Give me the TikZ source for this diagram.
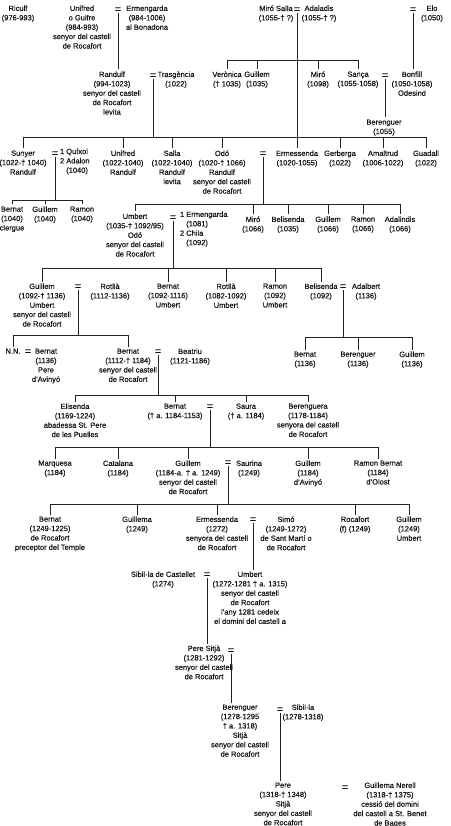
\documentclass[tikz,border=0pt]{standalone}
\usepackage{fontspec}
\setmainfont{Liberation Sans}[FakeBold=0.3]
\definecolor{treeInk}{RGB}{20,20,20}
\definecolor{treeLine}{RGB}{35,35,35}

\begin{document}
\begin{tikzpicture}[x=1pt,y=-1pt,inner sep=0pt,outer sep=0pt,
  person/.style={anchor=north,align=center,outer sep=2pt,text=treeInk,font=\fontsize{7.5}{9.4}\selectfont},
  wives/.style={anchor=north west,align=left,text=treeInk,font=\fontsize{7.5}{9.4}\selectfont},
  wed/.style={text=treeInk,font=\fontsize{11}{11}\selectfont},
  link/.style={draw=treeLine,line width=0.7pt}]
\useasboundingbox (0,0) rectangle (450,826);
\fill[white] (0,0) rectangle (450,826);

% first generation
\node[person] (riculf) at (18,3.5) {Riculf\\(976-993)};
\node[person] (unifred) at (82,3.5) {Unifred\\o Guifre\\(984-993)\\senyor del castell\\de Rocafort};
\node[wed] (eqUni) at (118,10) {=};
\node[person] (ermengarda) at (147,3.5) {Ermengarda\\(984-1006)\\al Bonadona};
\node[person] (miroSalla) at (276,3.5) {Miró Salla\\(1055-† ?)};
\node[wed] (eqMiro) at (297,10) {=};
\node[person] (adaladis) at (319,3.5) {Adaladis\\(1055-† ?)};
\node[wed] (eqElo) at (413,10) {=};
\node[person] (elo) at (432,3.5) {Elo\\(1050)};

% second generation
\node[person] (randulf) at (112,69.5) {Randulf\\(994-1023)\\senyor del castell\\de Rocafort\\levita};
\node[wed] (eqRan) at (153,76) {=};
\node[person] (trasgencia) at (176,69.5) {Trasgència\\(1022)};
\node[person] (veronica) at (227,69.5) {Verònica\\(† 1035)};
\node[person] (guillemA) at (257,69.5) {Guillem\\(1035)};
\node[person] (miroB) at (318,69.5) {Miró\\(1098)};
\node[person] (sanca) at (358,69.5) {Sança\\(1055-1058)};
\node[wed] (eqSan) at (385,76) {=};
\node[person] (bonfill) at (412,69.5) {Bonfill\\(1050-1058)\\Odesind};
\node[person] (berenguerA) at (384,117.5) {Berenguer\\(1055)};

% children of Randulf
\node[person] (sunyer) at (23,148.5) {Sunyer\\(1022-† 1040)\\Randulf};
\node[wed] (eqSuny) at (55,154) {=};
\node[wives] (wivesSuny) at (60,148.5) {1 Quíxol\\2 Adalon\\\hphantom{2 }(1040)};
\node[person] (unifredB) at (123,148.5) {Unifred\\(1022-1040)\\Randulf};
\node[person] (salla) at (172,148.5) {Salla\\(1022-1040)\\Randulf\\levita};
\node[person] (odo) at (222,148.5) {Odó\\(1020-† 1066)\\Randulf\\senyor del castell\\de Rocafort};
\node[wed] (eqOdo) at (263,154) {=};
\node[person] (ermessenda) at (297,148.5) {Ermessenda\\(1020-1055)};
\node[person] (gerberga) at (340,148.5) {Gerberga\\(1022)};
\node[person] (amaltrud) at (383,148.5) {Amaltrud\\(1006-1022)};
\node[person] (guadall) at (426,148.5) {Guadall\\(1022)};

% children of Sunyer and Odó
\node[person] (bernatA) at (12,204.5) {Bernat\\(1040)\\clergue};
\node[person] (guillemB) at (45,204.5) {Guillem\\(1040)};
\node[person] (ramonA) at (82,204.5) {Ramon\\(1040)};
\node[person] (umbert) at (135,211.5) {Umbert\\(1035-† 1092/95)\\Odó\\senyor del castell\\de Rocafort};
\node[wed] (eqUmb) at (173,218) {=};
\node[wives] (wivesUmb) at (180,211.5) {1 Ermengarda\\\hphantom{1 }(1081)\\2 Chila\\\hphantom{2 }(1092)};
\node[person] (miroC) at (253,214.5) {Miró\\(1066)};
\node[person] (belisendaA) at (288,214.5) {Belisenda\\(1035)};
\node[person] (guillemC) at (328,214.5) {Guillem\\(1066)};
\node[person] (ramonB) at (363,214.5) {Ramon\\(1066)};
\node[person] (adalindis) at (400,214.5) {Adalindis\\(1066)};

% children of Umbert
\node[person] (guillemD) at (42,281.5) {Guillem\\(1092-† 1136)\\Umbert\\senyor del castell\\de Rocafort};
\node[wed] (eqGui) at (78,287) {=};
\node[person] (rotllaA) at (110,281.5) {Rotllà\\(1112-1136)};
\node[person] (bernatB) at (168,281.5) {Bernat\\(1092-1116)\\Umbert};
\node[person] (rotllaB) at (226,281.5) {Rotllà\\(1082-1092)\\Umbert};
\node[person] (ramonC) at (275,281.5) {Ramon\\(1092)\\Umbert};
\node[person] (belisendaB) at (321,281.5) {Belisenda\\(1092)};
\node[wed] (eqBel) at (343,287) {=};
\node[person] (adalbert) at (366,281.5) {Adalbert\\(1136)};

% children of Guillem and Belisenda
\node[person] (nn) at (13,346.5) {N.N.};
\node[wed] (eqNn) at (28,352) {=};
\node[person] (bernatD) at (46,346.5) {Bernat\\(1136)\\Pere\\d'Avinyó};
\node[person] (bernatE) at (128,346.5) {Bernat\\(1112-† 1184)\\senyor del castell\\de Rocafort};
\node[wed] (eqBer) at (158,352) {=};
\node[person] (beatriu) at (190,346.5) {Beatriu\\(1121-1186)};
\node[person] (bernatC) at (305,349.5) {Bernat\\(1136)};
\node[person] (berenguerB) at (358,349.5) {Berenguer\\(1136)};
\node[person] (guillemE) at (412,349.5) {Guillem\\(1136)};

% children of Bernat and Beatriu
\node[person] (elisenda) at (75,401.5) {Elisenda\\(1169-1224)\\abadessa St. Pere\\de les Puelles};
\node[person] (bernatF) at (175,401.5) {Bernat\\(† a. 1184-1153)};
\node[wed] (eqBf) at (210,407) {=};
\node[person] (saura) at (246,401.5) {Saura\\(† a. 1184)};
\node[person] (berenguera) at (308,401.5) {Berenguera\\(1178-1184)\\senyora del castell\\de Rocafort};

% children of Bernat
\node[person] (marquesa) at (55,458.5) {Marquesa\\(1184)};
\node[person] (catalana) at (118,458.5) {Catalana\\(1184)};
\node[person] (guillemF) at (188,458.5) {Guillem\\(1184-a. † a. 1249)\\senyor del castell\\de Rocafort};
\node[wed] (eqGf) at (228,463) {=};
\node[person] (saurina) at (249,458.5) {Saurina\\(1249)};
\node[person] (guillemG) at (308,458.5) {Guillem\\(1184)\\d'Avinyó};
\node[person] (ramonD) at (378,458.5) {Ramon Bernat\\(1184)\\d'Olost};

% children of Guillem and Saurina
\node[person] (bernatG) at (50,514.5) {Bernat\\(1249-1225)\\de Rocafort\\preceptor del Temple};
\node[person] (guillema) at (137,514.5) {Guillema\\(1249)};
\node[person] (ermessendaB) at (217,514.5) {Ermessenda\\(1272)\\senyora del castell\\de Rocafort};
\node[wed] (eqErm) at (253,520) {=};
\node[person] (simo) at (286,514.5) {Simó\\(1249-1272)\\de Sant Martí o\\de Rocafort};
\node[person] (rocafort) at (355,514.5) {Rocafort\\(f) (1249)};
\node[person] (guillemH) at (409,514.5) {Guillem\\(1249)\\Umbert};

% last line of lords
\node[person] (sibilla) at (163,569.5) {Sibil·la de Castellet\\(1274)};
\node[wed] (eqSib) at (207,575) {=};
\node[person] (umbertB) at (250,569.5) {Umbert\\(1272-1281 † a. 1315)\\senyor del castell\\de Rocafort\\l'any 1281 cedeix\\el domini del castell a};
\node[person] (pereSitja) at (204,643.5) {Pere Sitjà\\(1281-1292)\\senyor del castell\\de Rocafort};
\node[wed] (eqPs) at (231,651) {=};
\node[person] (berenguerC) at (240,702.5) {Berenguer\\(1278-1295\\† a. 1318)\\Sitjà\\senyor del castell\\de Rocafort};
\node[wed] (eqBc) at (280,710) {=};
\node[person] (sibillaB) at (303,702.5) {Sibil·la\\(1278-1318)};
\node[person] (pere) at (283,780.5) {Pere\\(1318-† 1348)\\Sitjà\\senyor del castell\\de Rocafort};
\node[wed] (eqPere) at (345,788) {=};
\node[person] (guillemaN) at (390,780.5) {Guillema Nerell\\(1318-† 1375)\\cessió del domini\\del castell a St. Benet\\de Bages};

% sibling bars
\coordinate (barMiro) at (0,60);
\coordinate (barRan) at (0,137);
\coordinate (barSuny) at (0,200);
\coordinate (barOdo) at (0,204);
\coordinate (barUmb) at (0,268);
\coordinate (barGui) at (0,335);
\coordinate (barBel) at (0,337);
\coordinate (barBer) at (0,395);
\coordinate (barBf) at (0,447);
\coordinate (barGf) at (0,504);

% descent lines
\draw[link] (eqUni.south) -- (eqUni.south |- randulf.north);
\draw[link] (eqElo.south) -- (eqElo.south |- bonfill.north);
\draw[link] (eqSan.south) -- (eqSan.south |- berenguerA.north);
\draw[link] (eqMiro.south) -- (eqMiro.south |- barMiro);
\draw[link] (veronica.north) -- (veronica.north |- barMiro) -| (sanca.north);
\foreach \k in {guillemA,miroB,ermessenda}
  \draw[link] (\k.north) -- (\k.north |- barMiro);
\draw[link] (eqRan.south) -- (eqRan.south |- barRan);
\draw[link] (sunyer.north) -- (sunyer.north |- barRan) -| (guadall.north);
\foreach \k in {unifredB,salla,odo,gerberga,amaltrud}
  \draw[link] (\k.north) -- (\k.north |- barRan);
\draw[link] (eqSuny.south) -- (eqSuny.south |- barSuny);
\draw[link] (bernatA.north) -- (bernatA.north |- barSuny) -| (ramonA.north);
\draw[link] (guillemB.north) -- (guillemB.north |- barSuny);
\draw[link] (eqOdo.south) -- (eqOdo.south |- barOdo);
\draw[link] (umbert.north) -- (umbert.north |- barOdo) -| (adalindis.north);
\foreach \k in {miroC,belisendaA,guillemC,ramonB}
  \draw[link] (\k.north) -- (\k.north |- barOdo);
\draw[link] (eqUmb.south) -- (eqUmb.south |- barUmb);
\draw[link] (guillemD.north) -- (guillemD.north |- barUmb) -| (belisendaB.north);
\foreach \k in {bernatB,rotllaB,ramonC}
  \draw[link] (\k.north) -- (\k.north |- barUmb);
\draw[link] (eqBel.south) -- (eqBel.south |- barBel);
\draw[link] (bernatC.north) -- (bernatC.north |- barBel) -| (guillemE.north);
\draw[link] (berenguerB.north) -- (berenguerB.north |- barBel);
\draw[link] (eqGui.south) -- (eqGui.south |- barGui);
\draw[link] (nn.north) -- (nn.north |- barGui) -| (bernatE.north);
\draw[link] (eqBer.south) -- (eqBer.south |- barBer);
\draw[link] (elisenda.north) -- (elisenda.north |- barBer) -| (berenguera.north);
\foreach \k in {bernatF,saura}
  \draw[link] (\k.north) -- (\k.north |- barBer);
\draw[link] (eqBf.south) -- (eqBf.south |- barBf);
\draw[link] (marquesa.north) -- (marquesa.north |- barBf) -| (ramonD.north);
\foreach \k in {catalana,guillemF,guillemG}
  \draw[link] (\k.north) -- (\k.north |- barBf);
\draw[link] (eqGf.south) -- (eqGf.south |- barGf);
\draw[link] (bernatG.north) -- (bernatG.north |- barGf) -| (guillemH.north);
\foreach \k in {guillema,ermessendaB,rocafort}
  \draw[link] (\k.north) -- (\k.north |- barGf);
\draw[link] (eqErm.south) -- (eqErm.south |- umbertB.north);
\draw[link] (eqSib.south) -- (eqSib.south |- pereSitja.north);
\draw[link] (eqPs.south) -- (eqPs.south |- berenguerC.north);
\draw[link] (eqBc.south) -- (eqBc.south |- pere.north);
\end{tikzpicture}
\end{document}
